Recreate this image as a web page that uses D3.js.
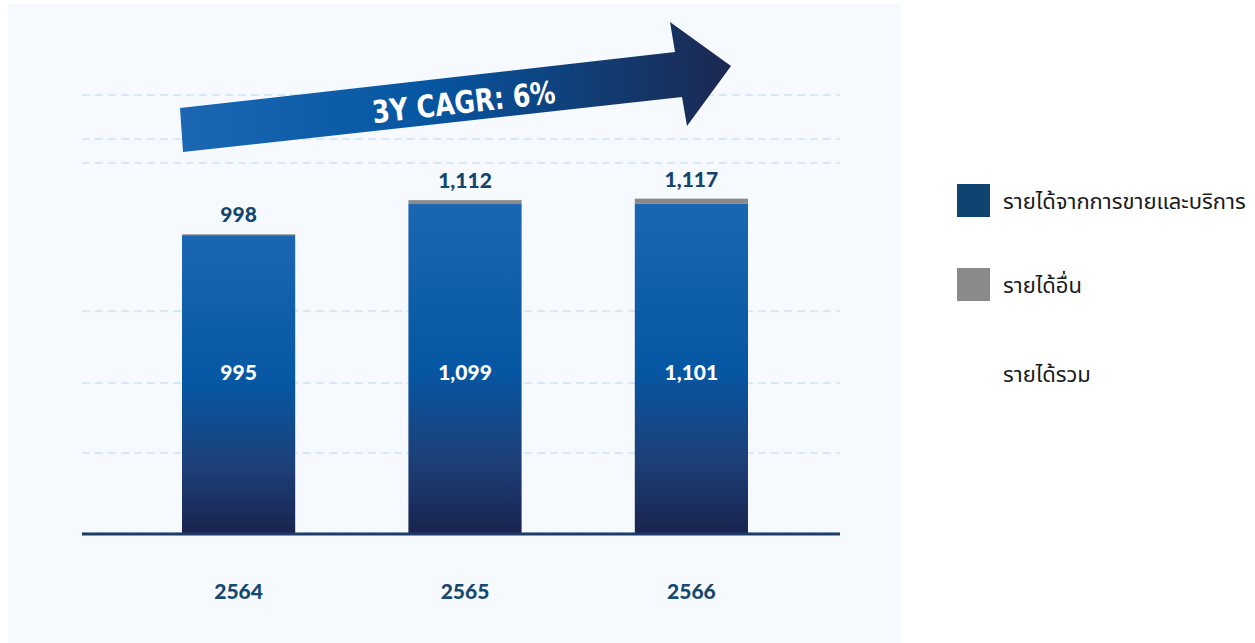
<!DOCTYPE html>
<html>
<head>
<meta charset="utf-8">
<script src="https://cdn.jsdelivr.net/npm/d3@7"></script>
<style>
  body { margin: 0; background: #ffffff; }
  svg { display: block; }
</style>
</head>
<body>
<svg id="chart"></svg>
<script>
// data
var years = ['2564', '2565', '2566'];
var salesRevenue = [995, 1099, 1101];
var otherRevenue = [3, 13, 16];
var totalRevenue = [998, 1112, 1117];
var legendLabels = ['รายได้จากการขายและบริการ', 'รายได้อื่น', 'รายได้รวม'];
var gridValues = [267, 501, 742, 1236, 1316, 1463];
var cagrLabel = '3Y CAGR: 6%';

var W = 1255, H = 643;

var svg = d3.select('#chart')
    .attr('width', W)
    .attr('height', H)

var defs = svg.append('defs')

var barGrad = defs.append('linearGradient')
    .attr('id', 'barGrad')
    .attr('x1', 0).attr('y1', 0).attr('x2', 0).attr('y2', 1)
barGrad.append('stop').attr('offset', '0%').attr('stop-color', '#1b66b2')
barGrad.append('stop').attr('offset', '50%').attr('stop-color', '#0657a3')
barGrad.append('stop').attr('offset', '78%').attr('stop-color', '#1d3f78')
barGrad.append('stop').attr('offset', '100%').attr('stop-color', '#19244e')

var arrowGrad = defs.append('linearGradient')
    .attr('id', 'arrowGrad')
    .attr('x1', 0).attr('y1', 0).attr('x2', 1).attr('y2', 0)
arrowGrad.append('stop').attr('offset', '0%').attr('stop-color', '#1b67b3')
arrowGrad.append('stop').attr('offset', '45%').attr('stop-color', '#0656a1')
arrowGrad.append('stop').attr('offset', '100%').attr('stop-color', '#1b2850')

// panel
svg.append('rect')
    .attr('x', 8).attr('y', 4)
    .attr('width', 893).attr('height', 639)
    .attr('fill', '#f6f9fd')

var left = 82, right = 840, base = 533;

var x = d3.scaleBand()
    .domain(years)
    .range([182, 748])
    .paddingInner(0.5)
    .paddingOuter(0)

var y = d3.scaleLinear()
    .domain([0, 1500])
    .range([base, 84])

// gridlines
svg.append('g').selectAll('line')
    .data(gridValues.concat([0]))
    .enter()
    .append('line')
    .attr('x1', left).attr('x2', right)
    .attr('y1', function(d){ return y(d) })
    .attr('y2', function(d){ return y(d) })
    .attr('stroke', '#cde4f6')
    .attr('stroke-width', 1.5)
    .attr('stroke-dasharray', '8,5')

var rows = years.map(function(yr, i){
    return {year: yr, sales: salesRevenue[i], other: otherRevenue[i], total: totalRevenue[i]}
})

var bars = svg.append('g')

// sales part
bars.selectAll('rect.sales')
    .data(rows)
    .enter()
    .append('rect')
    .attr('class', 'sales')
    .attr('x', function(d){ return x(d.year) })
    .attr('width', x.bandwidth())
    .attr('y', function(d){ return y(d.sales) })
    .attr('height', function(d){ return y(0) - y(d.sales) })
    .attr('fill', 'url(#barGrad)')

// other income part
bars.selectAll('rect.other')
    .data(rows)
    .enter()
    .append('rect')
    .attr('class', 'other')
    .attr('x', function(d){ return x(d.year) })
    .attr('width', x.bandwidth())
    .attr('y', function(d){ return y(d.sales + d.other) })
    .attr('height', function(d){ return y(d.sales) - y(d.sales + d.other) })
    .attr('fill', '#8a8a8a')

// baseline
svg.append('line')
    .attr('x1', left).attr('x2', right)
    .attr('y1', base + 1).attr('y2', base + 1)
    .attr('stroke', '#1f3a68')
    .attr('stroke-width', 3)

var fmt = d3.format(',')
var numFont = 'Lato, "Noto Sans", sans-serif'

// total labels
svg.append('g').selectAll('text')
    .data(rows)
    .enter()
    .append('text')
    .attr('x', function(d){ return x(d.year) + x.bandwidth() / 2 })
    .attr('y', function(d){ return y(d.total) - 12 })
    .attr('text-anchor', 'middle')
    .style('font-family', numFont)
    .style('font-weight', 900)
    .style('font-size', '21px')
    .style('fill', '#13456d')
    .text(function(d){ return fmt(d.total) })

// sales labels inside bars
svg.append('g').selectAll('text')
    .data(rows)
    .enter()
    .append('text')
    .attr('x', function(d){ return x(d.year) + x.bandwidth() / 2 })
    .attr('y', 380)
    .attr('text-anchor', 'middle')
    .style('font-family', numFont)
    .style('font-weight', 900)
    .style('font-size', '21px')
    .style('fill', '#ffffff')
    .text(function(d){ return fmt(d.sales) })

// year labels
svg.append('g').selectAll('text')
    .data(rows)
    .enter()
    .append('text')
    .attr('x', function(d){ return x(d.year) + x.bandwidth() / 2 })
    .attr('y', 599)
    .attr('text-anchor', 'middle')
    .style('font-family', numFont)
    .style('font-weight', 900)
    .style('font-size', '21px')
    .style('fill', '#154a70')
    .text(function(d){ return d.year })

// CAGR arrow
var arrowPts = [[180, 108], [675, 52], [670, 22], [731, 66], [687, 126], [682, 97], [183, 152]]
svg.append('path')
    .attr('d', d3.line()(arrowPts) + 'Z')
    .attr('fill', 'url(#arrowGrad)')

svg.append('text')
    .attr('transform', 'translate(465,113) rotate(-6.4)')
    .attr('text-anchor', 'middle')
    .attr('textLength', 184)
    .attr('lengthAdjust', 'spacingAndGlyphs')
    .style('font-family', '"DejaVu Sans Condensed", "Liberation Sans Narrow", sans-serif')
    .style('font-weight', 700)
    .style('font-size', '31px')
    .style('fill', '#ffffff')
    .text(cagrLabel)

// legend
var legendColors = ['#0f4470', '#8a8a8a', 'none']
var legend = svg.append('g').selectAll('g')
    .data(legendLabels)
    .enter()
    .append('g')
    .attr('transform', function(d, i){ return 'translate(957,' + [184, 268, 357][i] + ')' })

legend.append('rect')
    .attr('width', 33).attr('height', 33)
    .attr('fill', function(d, i){ return legendColors[i] })

legend.append('text')
    .attr('x', 46).attr('y', 25)
    .style('font-family', '"Noto Sans Thai", "Noto Sans", "DejaVu Sans", sans-serif')
    .style('font-size', '22px')
    .style('fill', '#1a1a1a')
    .text(function(d){ return d })
</script>
</body>
</html>
